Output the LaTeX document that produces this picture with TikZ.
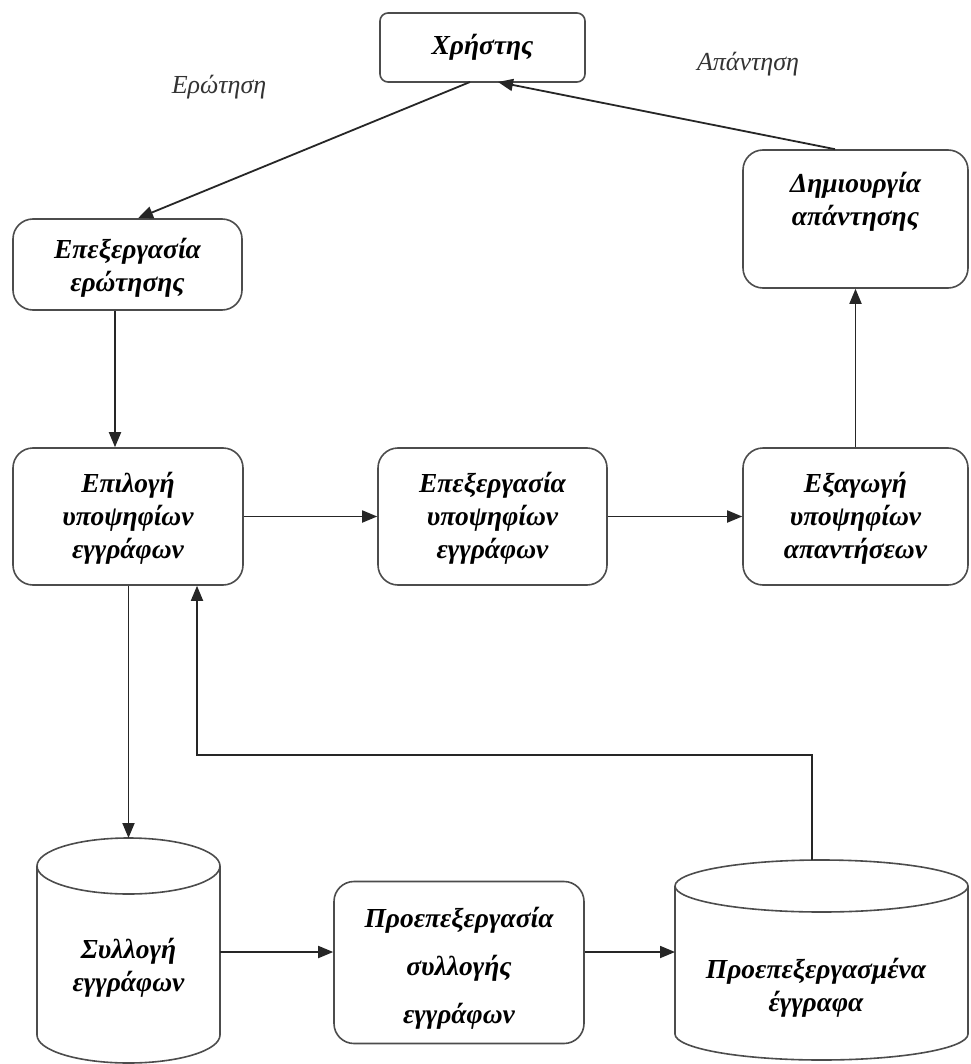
\documentclass[tikz,border=0pt]{standalone}
\usepackage{fontspec}
\setmainfont{Liberation Serif}
\usetikzlibrary{arrows.meta}
\begin{document}
\begin{tikzpicture}[x=1pt,y=-1pt,
  boxst/.style={draw=black!70,line width=1.6pt,rounded corners=20pt,inner sep=0pt},
  txt/.style={font=\bfseries\itshape\fontsize{27.5}{33}\selectfont,align=center,inner sep=0pt},
  lbl/.style={font=\itshape\fontsize{26}{30}\selectfont,text=black!80,inner sep=0pt},
  arr/.style={draw=black!85,line width=1.8pt,-{Triangle[length=15pt,width=12pt]}},
  cyl/.style={draw=black!70,line width=1.6pt}]
\useasboundingbox (0,0) rectangle (970,1064);
\fill[white] (0,0) rectangle (970,1064);

% user
\node[boxst,rounded corners=8pt,minimum width=205pt,minimum height=69pt] (user) at (482.5,47.5) {};
\node[txt] (usert) at (482.5,47) {Χρήστης};
\node[lbl] (q) at (219,87) {Ερώτηση};
\node[lbl] (a) at (748,64) {Απάντηση};

% query processing
\node[boxst,minimum width=229pt,minimum height=91pt] (qp) at (127.5,264.5) {};
\node[txt] (qpt) at (127.5,268) {Επεξεργασία\\ερώτησης};

% answer creation
\node[boxst,minimum width=225pt,minimum height=138pt] (ac) at (855.5,219) {};
\node[txt] (act) at (855.5,202) {Δημιουργία\\απάντησης};

% row of three
\node[boxst,minimum width=230pt,minimum height=137pt] (sel) at (128,516.5) {};
\node[txt] (selt) at (128,518) {Επιλογή\\υποψηφίων\\εγγράφων};
\node[boxst,minimum width=229pt,minimum height=137pt] (cp) at (492.5,516.5) {};
\node[txt] (cpt) at (492.5,518) {Επεξεργασία\\υποψηφίων\\εγγράφων};
\node[boxst,minimum width=225pt,minimum height=137pt] (ex) at (855.5,516.5) {};
\node[txt] (ext) at (855.5,518) {Εξαγωγή\\υποψηφίων\\απαντήσεων};

% preprocessing box
\node[boxst,minimum width=250pt,minimum height=162pt] (pp) at (459,962.5) {};
\node[txt,font=\bfseries\itshape\fontsize{27.5}{48}\selectfont] (ppt) at (459,968) {Προεπεξεργασία\\συλλογής\\εγγράφων};

% cylinder 1
\draw[cyl] (128.5,866) ellipse [x radius=91.5, y radius=28];
\draw[cyl] (37,866) -- (37,1035) arc[start angle=180,end angle=0,x radius=91.5,y radius=28] -- (220,866);
\coordinate (c1top) at (128.5,838);
\coordinate (c1east) at (220,952);
\node[txt] (c1t) at (128.5,968) {Συλλογή\\εγγράφων};

% cylinder 2
\draw[cyl] (821.5,886) ellipse [x radius=146.5, y radius=26];
\draw[cyl] (675,886) -- (675,1034) arc[start angle=180,end angle=0,x radius=146.5,y radius=26] -- (968,886);
\coordinate (c2top) at (812,860);
\coordinate (c2west) at (675,952);
\node[txt] (c2t) at (816,988) {Προεπεξεργασμένα\\έγγραφα};

% connectors
\coordinate (uq) at (470,82);
\coordinate (ua) at (498,82);
\draw[arr] (uq) -- (qp.north -| 138,0);
\draw[arr] (ac.north -| 835,0) -- (ua);
\draw[arr] (qp.south -| 115,0) -- (sel.north -| 115,0);
\draw[arr] (sel.east) -- (cp.west);
\draw[arr] (cp.east) -- (ex.west);
\draw[arr] (ex.north) -- (ac.south);
\draw[arr] (sel.south -| c1top) -- (c1top);
\coordinate (fb) at (197,755);
\draw[arr] (c2top) |- (fb) -- (sel.south -| fb);
\draw[arr] (c1east) -- (pp.west |- c1east);
\draw[arr] (pp.east |- c2west) -- (c2west);
\end{tikzpicture}
\end{document}
